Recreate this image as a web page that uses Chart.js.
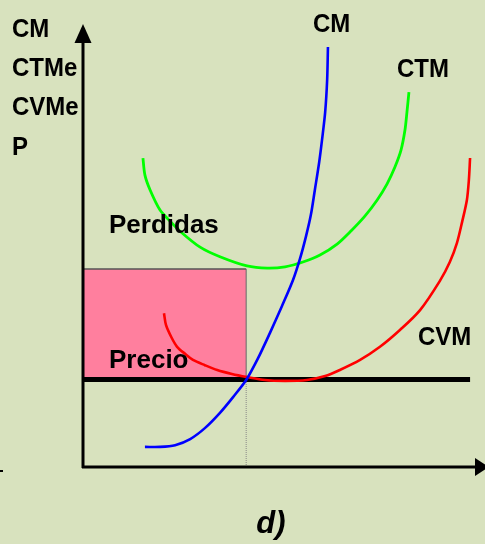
<!DOCTYPE html>
<html>
<head>
<meta charset="utf-8">
<script src="https://cdn.jsdelivr.net/npm/chart.js@4/dist/chart.umd.min.js"></script>
<style>
html,body{margin:0;padding:0;background:#D8E2BE;}
#wrap{width:485px;height:544px;}
</style>
</head>
<body>
<div id="wrap"><canvas id="c" width="485" height="544"></canvas></div>
<script>
// Quantity (x) and cost (y) values
const cmQ   = [1.56,1.94,2.32,2.70,3.07,3.45,3.78,4.11,4.41,4.71,5.01,5.29,5.47,5.62,5.74,5.84,5.95,6.02,6.10,6.15,6.17];
const cmC   = [0.46,0.46,0.50,0.64,0.89,1.24,1.60,1.99,2.49,3.07,3.68,4.28,4.78,5.29,5.77,6.34,6.98,7.48,8.12,8.86,9.61];
const ctmQ  = [1.51,1.56,1.69,1.94,2.19,2.44,2.95,3.45,4.13,4.64,5.09,5.54,5.97,6.40,6.75,7.10,7.41,7.66,7.86,8.01,8.11,8.16,8.21];
const ctmC  = [7.07,6.68,6.34,5.88,5.63,5.40,5.03,4.81,4.60,4.55,4.58,4.69,4.85,5.10,5.40,5.74,6.11,6.48,6.87,7.25,7.71,8.12,8.58];
const cvmQ  = [2.04,2.09,2.22,2.37,2.57,2.77,3.07,3.38,3.75,4.13,4.58,5.09,5.64,6.10,6.47,6.98,7.48,7.99,8.49,8.99,9.24,9.42,9.55,9.67,9.72,9.75];
const cvmC  = [3.52,3.25,2.98,2.75,2.59,2.45,2.33,2.22,2.13,2.06,1.99,1.97,1.99,2.08,2.22,2.45,2.75,3.14,3.59,4.26,4.69,5.13,5.61,6.11,6.57,7.07];
const price = 2.0;       // P
const ctmAtQ = 4.53;     // CTMe at the chosen quantity
const qStar = 4.11;      // quantity where P = CM
const priceEnd = 9.75;
const axisLabels = ["CM","CTMe","CVMe","P"];

const pts = (xs, ys) => xs.map((x,i)=>({x:x,y:ys[i]}));

const bgPlugin = {
  id:'bg',
  beforeDraw(chart){
    const ctx = chart.ctx;
    ctx.save();
    ctx.fillStyle = '#D8E2BE';
    ctx.fillRect(0,0,chart.width,chart.height);
    ctx.restore();
  }
};

function txt(ctx, s, x, y, font, sy){
  ctx.save();
  ctx.translate(x,y);
  ctx.scale(1, sy||1);
  ctx.font = font;
  ctx.fillText(s,0,0);
  ctx.restore();
}

const overlay = {
  id:'overlay',
  afterDatasetsDraw(chart){
    const ctx = chart.ctx;
    const xs = chart.scales.x, ys = chart.scales.y;
    const x0 = xs.getPixelForValue(0), y0 = ys.getPixelForValue(0);
    ctx.save();
    ctx.strokeStyle = '#000'; ctx.fillStyle = '#000';
    ctx.lineWidth = 3;
    // y axis
    ctx.beginPath(); ctx.moveTo(x0, y0+1); ctx.lineTo(x0, 42); ctx.stroke();
    ctx.beginPath(); ctx.moveTo(x0, 24); ctx.lineTo(x0-8.5, 43); ctx.lineTo(x0+8.5, 43); ctx.closePath(); ctx.fill();
    // x axis
    ctx.beginPath(); ctx.moveTo(x0-1, y0); ctx.lineTo(476, y0); ctx.stroke();
    ctx.beginPath(); ctx.moveTo(489, y0); ctx.lineTo(475, y0-9); ctx.lineTo(475, y0+9); ctx.closePath(); ctx.fill();
    // small stray mark
    ctx.fillRect(0, 470, 3, 2);
    // texts
    ctx.textBaseline = 'alphabetic';
    const f = 'bold 24px "Liberation Sans", Arial, sans-serif';
    const base = [37,76,115,155];
    axisLabels.forEach((s,i)=>txt(ctx, s, 12, base[i], f, 1.1));
    txt(ctx, 'CM', 313, 32, f, 1.1);
    txt(ctx, 'CTM', 397, 77, f, 1.1);
    txt(ctx, 'CVM', 418, 345, f, 1.1);
    const f2 = 'bold 26px "Liberation Sans", Arial, sans-serif';
    txt(ctx, 'Perdidas', 109, 233, f2, 1.0);
    txt(ctx, 'Precio', 109, 368, f2, 1.0);
    ctx.textAlign = 'center';
    txt(ctx, 'd)', 271, 533, 'italic bold 31px "Liberation Sans", Arial, sans-serif', 1.0);
    ctx.restore();
  }
};

new Chart(document.getElementById('c'), {
  type:'scatter',
  data:{
    datasets:[
      {label:'CM', data:pts(cmQ,cmC), showLine:true, borderColor:'#0000FF', borderWidth:2.6, pointRadius:0, tension:0.3, order:1},
      {label:'CTM', data:pts(ctmQ,ctmC), showLine:true, borderColor:'#00FF00', borderWidth:2.8, pointRadius:0, tension:0.3, order:2},
      {label:'CVM', data:pts(cvmQ,cvmC), showLine:true, borderColor:'#FF0000', borderWidth:2.6, pointRadius:0, tension:0.3, order:3},
      {label:'P', data:[{x:0,y:price},{x:priceEnd,y:price}], showLine:true, borderColor:'#000', borderWidth:5, pointRadius:0, order:4},
      {label:'rectRight', data:[{x:qStar,y:price},{x:qStar,y:ctmAtQ}], showLine:true, borderColor:'#666', borderWidth:1, pointRadius:0, order:6},
      {label:'dotted', data:[{x:qStar,y:0},{x:qStar,y:price}], showLine:true, borderColor:'#888', borderWidth:1, borderDash:[1,1], pointRadius:0, order:7},
      {label:'Perdidas', data:[{x:0,y:ctmAtQ},{x:qStar,y:ctmAtQ}], showLine:true, borderColor:'#555', borderWidth:1.5, pointRadius:0, fill:{value:price}, backgroundColor:'#FF7F9E', order:10}
    ]
  },
  options:{
    responsive:false,
    animation:false,
    layout:{padding:{left:83, right:5, top:30, bottom:77}},
    plugins:{legend:{display:false}, tooltip:{enabled:false}, title:{display:false}},
    scales:{
      x:{type:'linear', min:0, max:10, display:false},
      y:{type:'linear', min:0, max:10, display:false}
    }
  },
  plugins:[bgPlugin, overlay]
});
</script>
</body>
</html>
